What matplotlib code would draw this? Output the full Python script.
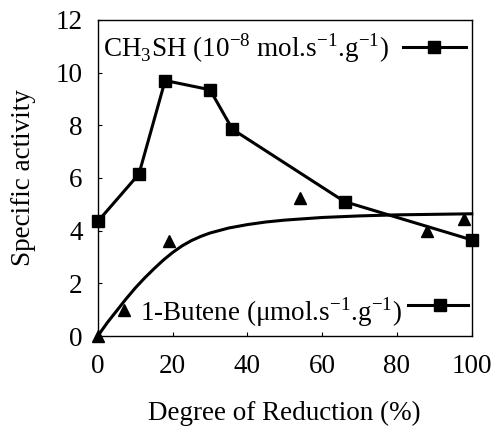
import matplotlib.pyplot as plt
from matplotlib.lines import Line2D

plt.rcParams['font.family'] = ['Liberation Serif', 'DejaVu Serif']
plt.rcParams['mathtext.fontset'] = 'custom'
plt.rcParams['mathtext.rm'] = 'Liberation Serif'

# CH3SH specific activity (squares, joined)
ch3sh_x = [0, 11, 18, 30, 36, 66, 100]
ch3sh_y = [4.35, 6.15, 9.7, 9.35, 7.85, 5.1, 3.65]

# 1-butene points (triangles)
but_x = [0, 7, 19, 54, 88, 98]
but_y = [0.0, 1.0, 3.6, 5.25, 4.0, 4.45]

# fitted curve
fit_x = [0, 1, 2.5, 5, 7.5, 10, 12.5, 15, 17.5, 20, 22.5, 25, 27.5, 30, 35, 40, 45,
         50, 60, 70, 80, 90, 100]
fit_y = [0, 0.2, 0.5, 0.95, 1.4, 1.82, 2.2, 2.55, 2.88, 3.17, 3.42, 3.62, 3.78, 3.91,
         4.1, 4.23, 4.33, 4.4, 4.5, 4.56, 4.6, 4.62, 4.64]

fig = plt.figure(figsize=(4.94, 4.30), dpi=100)
ax = fig.add_axes([0.198, 0.2186, 0.757, 0.735])

ax.plot(ch3sh_x, ch3sh_y, '-s', color='black', lw=2.2, ms=8.5, clip_on=False)
ax.plot(fit_x, fit_y, '-', color='black', lw=2.2, clip_on=False)
ax.plot(but_x, but_y, '^', color='black', ms=8.5, ls='none', clip_on=False)

ax.set_xlim(0, 100)
ax.set_ylim(0, 12)
ax.set_xticks(range(0, 101, 20))
ax.set_yticks(range(0, 13, 2))
ax.tick_params(axis='x', direction='in', length=3, labelsize=19.5, pad=13)
ax.tick_params(axis='y', direction='in', length=3, labelsize=19.5, pad=11)
for s in ax.spines.values():
    s.set_linewidth(1.0)

ax.set_ylabel('Specific activity', fontsize=19.5, labelpad=14)
ax.set_xlabel('Degree of Reduction (%)', fontsize=19.5, labelpad=16)

# legend-like labels drawn in the plot
ax.text(0.013, 0.91, r'CH$_3$SH (10$^{-8}$ mol.s$^{-1}$.g$^{-1}$)',
        transform=ax.transAxes, fontsize=19.5, va='center', ha='left')
ax.add_line(Line2D([0.815, 0.984], [0.915, 0.915], transform=ax.transAxes,
                   color='black', lw=2.2))
ax.add_line(Line2D([0.9], [0.915], transform=ax.transAxes, marker='s',
                   color='black', ms=8.5))

ax.text(0.112, 0.075, '1-Butene (μmol.s$^{-1}$.g$^{-1}$)',
        transform=ax.transAxes, fontsize=19.5, va='center', ha='left')
ax.add_line(Line2D([0.829, 0.989], [0.098, 0.098], transform=ax.transAxes,
                   color='black', lw=2.2))
ax.add_line(Line2D([0.914], [0.098], transform=ax.transAxes, marker='s',
                   color='black', ms=8.5))

fig.savefig('out.png', dpi=100)
